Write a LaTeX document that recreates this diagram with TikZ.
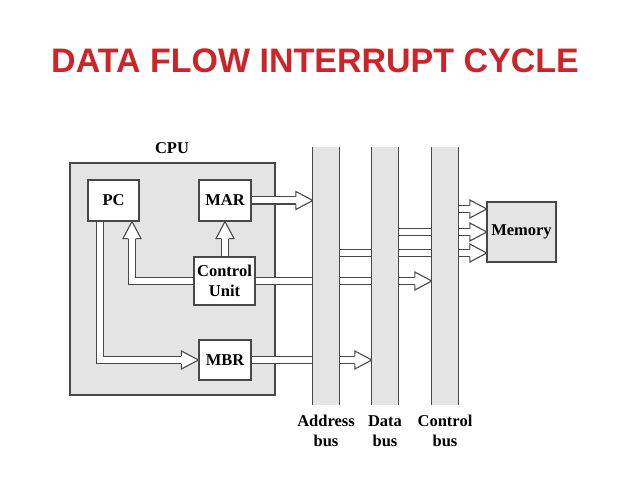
\documentclass[tikz,border=0pt]{standalone}
\usepackage{fontspec}
\setmainfont{Liberation Serif}
\newfontfamily\titlefont{Liberation Sans}
\usetikzlibrary{calc}
\definecolor{titlered}{RGB}{204,37,41}
\definecolor{dk}{RGB}{72,72,72}
\definecolor{lg}{RGB}{228,228,228}
\tikzset{
  tx/.style={font=\fontsize{16.5}{19.5}\selectfont\bfseries, text=black},
  boxw/.style={draw=dk, line width=1.2pt, fill=white, inner sep=0pt, tx},
  busn/.style={fill=lg, inner sep=0pt, minimum width=26pt, minimum height=258pt},
  busline/.style={draw=dk, line width=1.2pt},
  shaft/.style={draw=dk, line width=1.1pt, double=white, double distance=6pt, line join=miter},
  hhead/.pic={
    \fill[white] (0,0) -- (-17,-9) -- (-17,9) -- cycle;
    \draw[dk, line width=1.1pt, line join=miter] (-17,-3.6) -- (-17,-9) -- (0,0) -- (-17,9) -- (-17,3.6);
  }
}
\begin{document}
\begin{tikzpicture}[x=1pt,y=-1pt]
\useasboundingbox (0,0) rectangle (638,478);
\fill[white] (0,0) rectangle (638,478);

% title
\node[anchor=base, text=titlered, font=\titlefont\bfseries\fontsize{34}{40}\selectfont, inner sep=0pt] (title) at (315,73) {DATA FLOW INTERRUPT CYCLE};

% CPU
\node[draw=dk, line width=1.2pt, fill=lg, inner sep=0pt, minimum width=205pt, minimum height=232pt] (cpu) at (172.5,279) {};
\node[tx] (cpulab) at (172,148) {CPU};

\node[boxw, minimum width=51pt, minimum height=41pt] (pc) at (113.5,200.5) {PC};
\node[boxw, minimum width=52pt, minimum height=41pt] (mar) at (225,200.5) {MAR};
\node[boxw, minimum width=61pt, minimum height=48pt, align=center] (cu) at (224.5,281) {Control\\Unit};
\node[boxw, minimum width=52pt, minimum height=40pt] (mbr) at (225,360) {MBR};

% bus positions (nodes drawn later)
\node[busn, fill=none] (abus) at (326,276) {};
\node[busn, fill=none] (dbus) at (385,276) {};
\node[busn, fill=none] (cbus) at (445,276) {};

% memory position
\node[inner sep=0pt, minimum width=69pt, minimum height=60pt] (memp) at (521.5,232) {};
\coordinate (m1) at ($(memp.west)+(0,-23)$);
\coordinate (m2) at (memp.west);
\coordinate (m3) at ($(memp.west)+(0,21)$);

% arrows inside CPU
\draw[shaft] (mar.east) -- ($(mar.east -| abus.west)+(-17,0)$);
\pic at (mar.east -| abus.west) {hhead};

\draw[shaft] (cu.west) -| ($(pc.south)+(18.5,17)$);
\pic[rotate=90] at ($(pc.south)+(18.5,0)$) {hhead};

\draw[shaft] (cu.north -| mar.south) -- ($(mar.south)+(0,17)$);
\pic[rotate=90] at (mar.south) {hhead};

\draw[shaft] (cu.east) -- ($(cu.east -| cbus.west)+(-17,0)$);
\pic at (cu.east -| cbus.west) {hhead};

\draw[shaft] ($(pc.south)+(-13.5,0)$) |- ($(mbr.west)+(-17,0)$);
\pic at (mbr.west) {hhead};

\draw[shaft] (mbr.east) -- ($(mbr.east -| dbus.west)+(-17,0)$);
\pic at (mbr.east -| dbus.west) {hhead};

% bus to memory
\draw[shaft] (m3 -| abus.east) -- ($(m3)+(-17,0)$);
\pic at (m3) {hhead};
\draw[shaft] (m2 -| dbus.east) -- ($(m2)+(-17,0)$);
\pic at (m2) {hhead};
\draw[shaft] (m1 -| cbus.east) -- ($(m1)+(-17,0)$);
\pic at (m1) {hhead};

% buses on top
\foreach \b in {abus,dbus,cbus}{
  \fill[lg] (\b.north west) rectangle (\b.south east);
  \draw[busline] (\b.north west) -- (\b.south west) (\b.north east) -- (\b.south east);
}

% memory
\node[draw=dk, line width=1.2pt, fill=lg, inner sep=0pt, minimum width=69pt, minimum height=60pt, tx] (mem) at (memp) {Memory};

% bus labels
\node[tx, align=center] (alab) at (326,431) {Address\\bus};
\node[tx, align=center] (dlab) at (385,431) {Data\\bus};
\node[tx, align=center] (clab) at (445,431) {Control\\bus};
\end{tikzpicture}
\end{document}
